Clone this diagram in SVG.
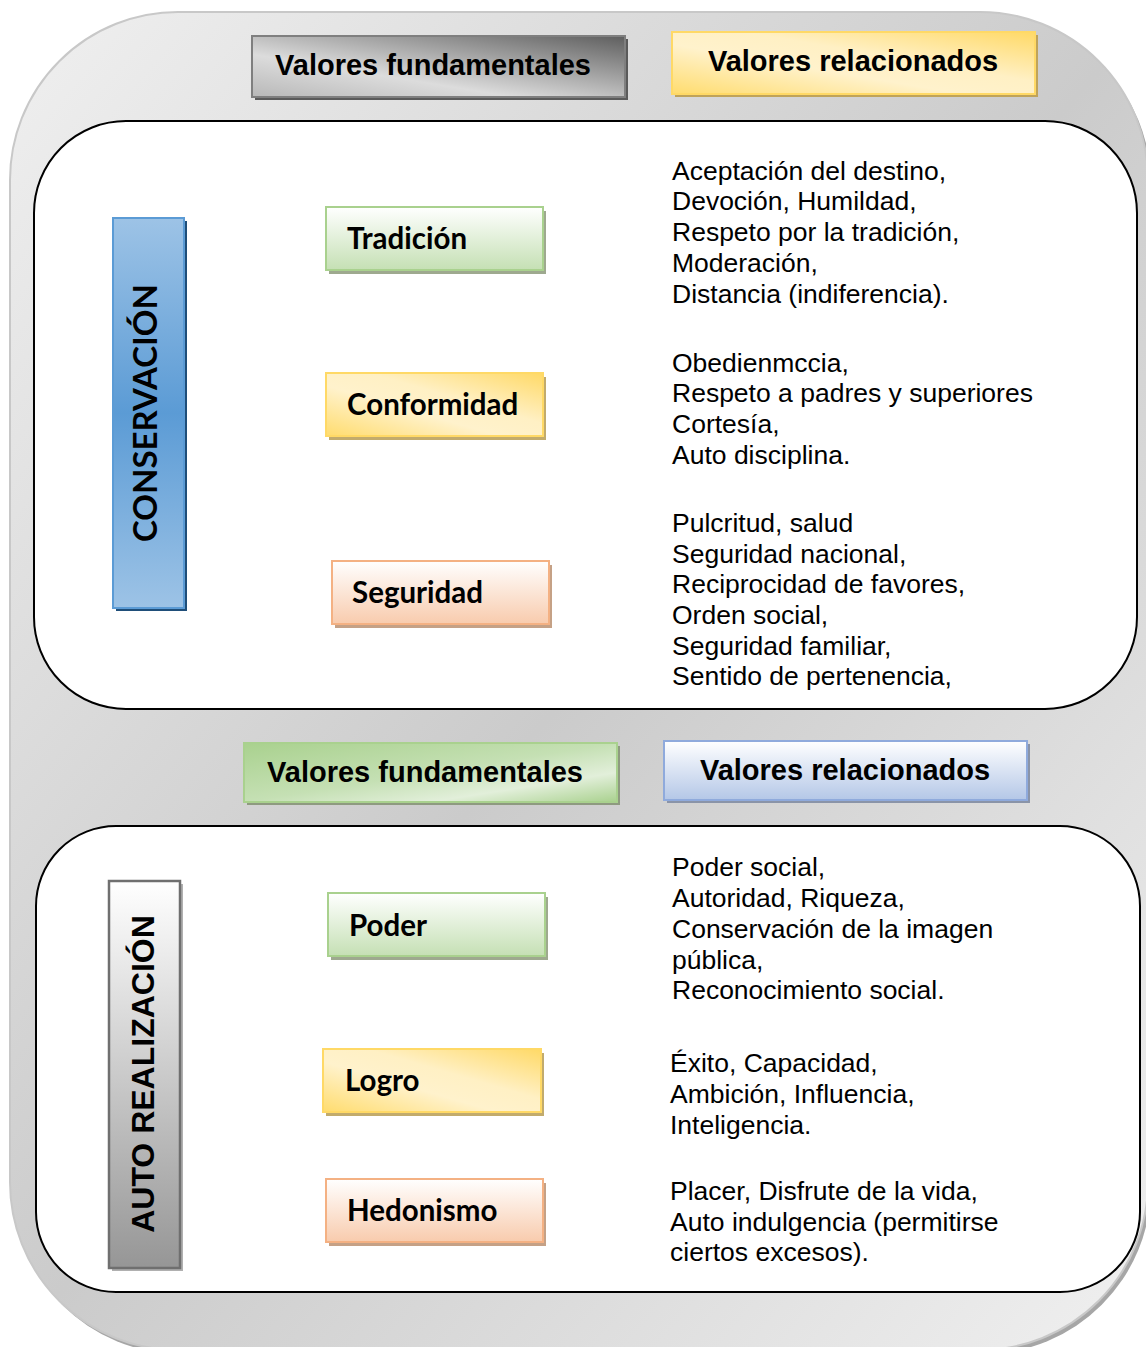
<svg xmlns="http://www.w3.org/2000/svg" width="1146" height="1347" viewBox="0 0 1146 1347">
<defs>
<linearGradient id="gOuter" x1="0" y1="0" x2="1" y2="1">
<stop offset="0" stop-color="#f0f0f0"/><stop offset="0.5" stop-color="#cbcbcb"/><stop offset="1" stop-color="#f0f0f0"/>
</linearGradient>
<linearGradient id="gGrayHdr" x1="0" y1="1" x2="1" y2="0">
<stop offset="0" stop-color="#b8b8b8"/><stop offset="0.35" stop-color="#dcdcdc"/><stop offset="1" stop-color="#5e5e5e"/>
</linearGradient>
<linearGradient id="gYellow" x1="0" y1="1" x2="1" y2="0">
<stop offset="0" stop-color="#ffdc6e"/><stop offset="0.4" stop-color="#fff2cc"/><stop offset="0.6" stop-color="#fff0c4"/><stop offset="1" stop-color="#ffd966"/>
</linearGradient>
<linearGradient id="gGreenHdr" x1="0" y1="0" x2="1" y2="1">
<stop offset="0" stop-color="#a9d18e"/><stop offset="0.5" stop-color="#c5e0b4"/><stop offset="0.75" stop-color="#e2efda"/><stop offset="1" stop-color="#a9d18e"/>
</linearGradient>
<linearGradient id="gGreen" x1="0" y1="0" x2="0" y2="1">
<stop offset="0" stop-color="#ffffff"/><stop offset="1" stop-color="#c5e0b4"/>
</linearGradient>
<linearGradient id="gPeach" x1="0" y1="0" x2="0" y2="1">
<stop offset="0" stop-color="#ffffff"/><stop offset="1" stop-color="#f8cbad"/>
</linearGradient>
<linearGradient id="gBlueHdr" x1="0" y1="0" x2="0" y2="1">
<stop offset="0" stop-color="#ffffff"/><stop offset="1" stop-color="#b4c7e7"/>
</linearGradient>
<linearGradient id="gBlueV" x1="0" y1="0" x2="0" y2="1">
<stop offset="0" stop-color="#9dc3e6"/><stop offset="0.5" stop-color="#5b9bd5"/><stop offset="1" stop-color="#9dc3e6"/>
</linearGradient>
<linearGradient id="gGrayV" x1="0" y1="0" x2="0" y2="1">
<stop offset="0" stop-color="#ffffff"/><stop offset="1" stop-color="#969696"/>
</linearGradient>
<style>
.hdr{font-family:"Liberation Sans",Arial,sans-serif;font-weight:bold;font-size:29px;fill:#000;text-anchor:middle}
.node{font-family:Lato,"Noto Sans",sans-serif;font-weight:bold;font-size:29.5px;fill:#000}
.rel{font-family:"Liberation Sans",Arial,sans-serif;font-size:26.5px;fill:#000}
.inner{fill:#ffffff;stroke:#000;stroke-width:2}
</style>
</defs>

<g id="background">
<rect x="13" y="16" width="1138" height="1338" rx="168" fill="#a6a6a6"/>
<rect x="10" y="12" width="1138" height="1338" rx="168" fill="url(#gOuter)" stroke="#c8c8c8" stroke-width="2"/>
</g>

<g id="header-top-fund">
<rect x="255" y="39" width="373" height="61" fill="#5a5a5a"/>
<rect x="252" y="36" width="373" height="61" fill="url(#gGrayHdr)" stroke="#7f7f7f" stroke-width="2"/>
<text class="hdr" x="433" y="75">Valores fundamentales</text>
</g>
<g id="header-top-rel">
<rect x="675" y="35" width="363" height="62" fill="#bfa35a"/>
<rect x="672" y="32" width="363" height="62" fill="url(#gYellow)" stroke="#ffd966" stroke-width="2"/>
<text class="hdr" x="853" y="71">Valores relacionados</text>
</g>

<g id="box-conservacion">
<rect class="inner" x="34" y="121" width="1103" height="588" rx="92"/>
</g>

<g id="label-conservacion">
<rect x="116" y="221" width="71" height="390" fill="#1f4e79"/>
<rect x="113" y="218" width="71" height="390" fill="url(#gBlueV)" stroke="#5b9bd5" stroke-width="2"/>
<text font-family="Lato,'Noto Sans',sans-serif" font-weight="bold" font-size="33" text-anchor="middle" transform="translate(157,413) rotate(-90)">CONSERVACIÓN</text>
</g>

<g id="node-tradicion">
<rect x="329" y="211" width="217" height="63" fill="#9ea98f"/>
<rect x="326" y="207" width="217" height="63" fill="url(#gGreen)" stroke="#a9d18e" stroke-width="2"/>
<text class="node" x="347" y="249">Tradición</text>
</g>
<g id="rel-tradicion">
<text class="rel" x="672" y="180">Aceptación del destino,</text>
<text class="rel" x="672" y="210">Devoción, Humildad,</text>
<text class="rel" x="672" y="241">Respeto por la tradición,</text>
<text class="rel" x="672" y="272">Moderación,</text>
<text class="rel" x="672" y="303">Distancia (indiferencia).</text>
</g>

<g id="node-conformidad">
<rect x="329" y="377" width="217" height="63" fill="#c2ab6c"/>
<rect x="326" y="373" width="217" height="63" fill="url(#gYellow)" stroke="#ffd966" stroke-width="2"/>
<text class="node" x="347" y="415">Conformidad</text>
</g>
<g id="rel-conformidad">
<text class="rel" x="672" y="372">Obedienmccia,</text>
<text class="rel" x="672" y="402">Respeto a padres y superiores</text>
<text class="rel" x="672" y="433">Cortesía,</text>
<text class="rel" x="672" y="464">Auto disciplina.</text>
</g>

<g id="node-seguridad">
<rect x="335" y="565" width="217" height="63" fill="#c5a186"/>
<rect x="332" y="561" width="217" height="63" fill="url(#gPeach)" stroke="#f4b183" stroke-width="2"/>
<text class="node" x="352" y="603">Seguridad</text>
</g>
<g id="rel-seguridad">
<text class="rel" x="672" y="532">Pulcritud, salud</text>
<text class="rel" x="672" y="563">Seguridad nacional,</text>
<text class="rel" x="672" y="593">Reciprocidad de favores,</text>
<text class="rel" x="672" y="624">Orden social,</text>
<text class="rel" x="672" y="655">Seguridad familiar,</text>
<text class="rel" x="672" y="685">Sentido de pertenencia,</text>
</g>

<g id="header-mid-fund">
<rect x="247" y="746" width="373" height="59" fill="#8e9a80"/>
<rect x="244" y="743" width="373" height="59" fill="url(#gGreenHdr)" stroke="#a9d18e" stroke-width="2"/>
<text class="hdr" x="425" y="782">Valores fundamentales</text>
</g>
<g id="header-mid-rel">
<rect x="667" y="744" width="363" height="59" fill="#8a94a8"/>
<rect x="664" y="741" width="363" height="59" fill="url(#gBlueHdr)" stroke="#8faadc" stroke-width="2"/>
<text class="hdr" x="845" y="780">Valores relacionados</text>
</g>

<g id="box-autorealizacion">
<rect class="inner" x="36" y="826" width="1104" height="466" rx="80"/>
</g>

<g id="label-autorealizacion">
<rect x="112" y="884" width="71" height="387" fill="#b0b0b0"/>
<rect x="109" y="881" width="71" height="387" fill="url(#gGrayV)" stroke="#6f6f6f" stroke-width="2.5"/>
<text font-family="'Liberation Sans',Arial,sans-serif" font-weight="bold" font-size="32" text-anchor="middle" transform="translate(154,1074) rotate(-90)">AUTO REALIZACIÓN</text>
</g>

<g id="node-poder">
<rect x="331" y="897" width="217" height="63" fill="#9ea98f"/>
<rect x="328" y="893" width="217" height="63" fill="url(#gGreen)" stroke="#a9d18e" stroke-width="2"/>
<text class="node" x="349" y="936">Poder</text>
</g>
<g id="rel-poder">
<text class="rel" x="672" y="876">Poder social,</text>
<text class="rel" x="672" y="907">Autoridad, Riqueza,</text>
<text class="rel" x="672" y="938">Conservación de la imagen</text>
<text class="rel" x="672" y="969">pública,</text>
<text class="rel" x="672" y="999">Reconocimiento social.</text>
</g>

<g id="node-logro">
<rect x="326" y="1053" width="218" height="63" fill="#c2ab6c"/>
<rect x="323" y="1049" width="218" height="63" fill="url(#gYellow)" stroke="#ffd966" stroke-width="2"/>
<text class="node" x="345" y="1091">Logro</text>
</g>
<g id="rel-logro">
<text class="rel" x="670" y="1072">Éxito, Capacidad,</text>
<text class="rel" x="670" y="1103">Ambición, Influencia,</text>
<text class="rel" x="670" y="1134">Inteligencia.</text>
</g>

<g id="node-hedonismo">
<rect x="329" y="1183" width="217" height="63" fill="#c5a186"/>
<rect x="326" y="1179" width="217" height="63" fill="url(#gPeach)" stroke="#f4b183" stroke-width="2"/>
<text class="node" x="347" y="1221">Hedonismo</text>
</g>
<g id="rel-hedonismo">
<text class="rel" x="670" y="1200">Placer, Disfrute de la vida,</text>
<text class="rel" x="670" y="1231">Auto indulgencia (permitirse</text>
<text class="rel" x="670" y="1261">ciertos excesos).</text>
</g>

<g id="connectors"></g>
</svg>
